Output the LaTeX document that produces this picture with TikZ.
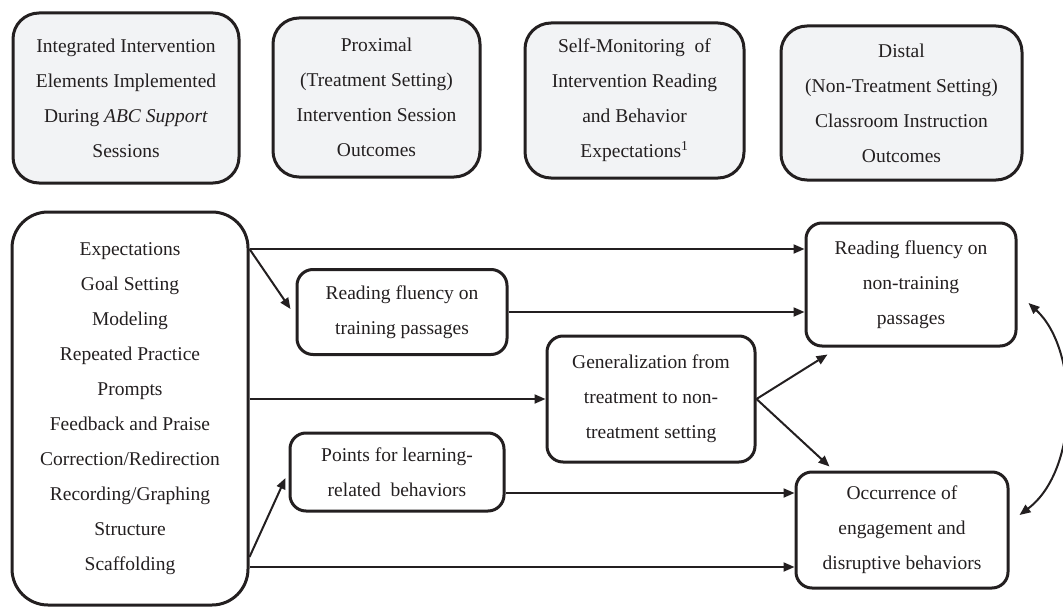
\documentclass[tikz,border=0pt]{standalone}
\usepackage{fontspec}
\setmainfont{Liberation Serif}
\usepackage{xcolor}
\usetikzlibrary{arrows.meta, positioning}
\definecolor{headgray}{RGB}{242,243,245}
\definecolor{ink}{RGB}{35,31,32}
\tikzset{
	box/.style={draw=ink, line width=3pt, align=center, inner sep=0pt, text=ink, font=\fontsize{19.5}{35}\selectfont},
	headbox/.style={box, fill=headgray, rounded corners=26pt},
	outbox/.style={box, rounded corners=16pt},
	link/.style={draw=ink, line width=2pt, ->}
}

\begin{document}
\begin{tikzpicture}[x=1pt, y=-1pt, >={Triangle[length=11pt,width=9pt]}]
			\useasboundingbox (0,0) rectangle (1063,607);
			
			% column headers
			\node[headbox, minimum width=226pt, minimum height=170pt] (h1) at (126,98) {Integrated Intervention\\Elements Implemented\\During \textit{ABC Support}\\Sessions};
			\node[headbox, minimum width=207pt, minimum height=159pt] (h2) at (376.5,97.5) {Proximal\\(Treatment Setting)\\Intervention Session\\Outcomes};
			\node[headbox, minimum width=219pt, minimum height=155pt] (h3) at (634.5,100.5) {Self-Monitoring\ \ of\\Intervention Reading\\and Behavior\\Expectations\textsuperscript{1}};
			\node[headbox, minimum width=241pt, minimum height=154pt] (h4) at (901.5,103) {Distal\\(Non-Treatment Setting)\\Classroom Instruction\\Outcomes};
			
			% intervention elements
			\node[box, rounded corners=36pt, minimum width=236pt, minimum height=393pt] (elems) at (130,408.5) {Expectations\\Goal Setting\\Modeling\\Repeated Practice\\Prompts\\Feedback and Praise\\Correction/Redirection\\Recording/Graphing\\Structure\\Scaffolding};
			
			% outcomes
			\node[outbox, minimum width=210pt, minimum height=85pt] (train) at (402,312) {Reading fluency on\\training passages};
			\node[outbox, minimum width=208pt, minimum height=126pt] (gen) at (651,399) {Generalization from\\treatment to non-\\treatment setting};
			\node[outbox, minimum width=214pt, minimum height=78pt] (points) at (397,472) {Points for learning-\\related\ \ behaviors};
			\node[outbox, minimum width=210pt, minimum height=123pt] (nontrain) at (911,284.5) {Reading fluency on\\non-training\\passages};
			\node[outbox, minimum width=212pt, minimum height=116pt] (occur) at (902,530) {Occurrence of\\engagement and\\disruptive behaviors};
			
			\coordinate (nt-in) at ([yshift=35.5pt]nontrain.west);
			\coordinate (oc-in1) at ([yshift=37pt]occur.west);
			\coordinate (oc-in2) at ([yshift=-37pt]occur.west);
			\coordinate (el-low) at (elems.east |- oc-in2);
			
			\draw[link] (elems.east |- nt-in) -- (nt-in);
			\draw[link] (elems.east |- nt-in) -- ([xshift=-5pt,yshift=3pt]train.west);
			\draw[link] (train.east) -- (train.east -| nontrain.west);
			\draw[link] (elems.east |- gen.west) -- (gen.west);
			\draw[link] (gen.east) -- ([xshift=23pt,yshift=-7pt]nontrain.south west);
			\draw[link] (gen.east) -- ([xshift=35pt,yshift=4pt]occur.north west);
			\draw[link] ([yshift=10pt]el-low) -- ([xshift=-3pt,yshift=-6pt]points.west);
			\draw[link] (points.east |- oc-in1) -- (oc-in1);
			\draw[link] (el-low) -- (oc-in2);
			
			% reading and behavior linked both ways
			\coordinate (cv-top) at ([xshift=11pt,yshift=-18.5pt]nontrain.east);
			\coordinate (cv-bot) at ([xshift=10pt,yshift=15pt]occur.east);
			\draw[link, <->] (cv-top) .. controls +(51,47) and +(60,-45) .. (cv-bot);
		\end{tikzpicture}
\end{document}
